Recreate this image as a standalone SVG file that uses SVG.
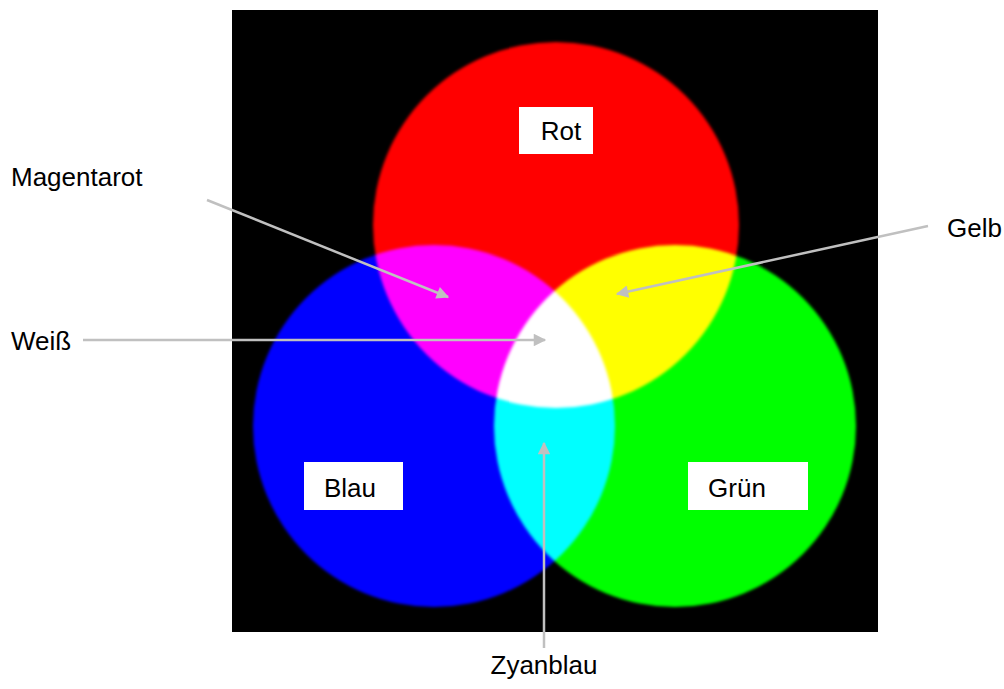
<svg xmlns="http://www.w3.org/2000/svg" width="1004" height="689" viewBox="0 0 1004 689">
<style>
.lbl{font-family:"Liberation Sans",Arial,sans-serif;font-size:26px;fill:#000}
.box{fill:#fff}
.conn{stroke:#c0c0c0;stroke-width:2.5;fill:none}
.light{mix-blend-mode:screen}
</style>
<defs>
<filter id="soft" x="-10%" y="-10%" width="120%" height="120%"><feGaussianBlur stdDeviation="1.5"/></filter>
<marker id="ah" viewBox="0 0 10 10" refX="9" refY="5" markerWidth="6" markerHeight="5" markerUnits="strokeWidth" orient="auto"><path d="M0,0 L10,5 L0,10 z" fill="#c0c0c0"/></marker>
</defs>
<rect width="1004" height="689" fill="#fff"/>
<g id="lights" style="isolation:isolate">
<rect x="232" y="10" width="646" height="622" fill="#000"/>
<circle id="red" class="light" cx="556" cy="225" r="183" fill="#ff0000" filter="url(#soft)"/>
<circle id="blue" class="light" cx="434" cy="426" r="181" fill="#0000ff" filter="url(#soft)"/>
<circle id="green" class="light" cx="675" cy="426" r="181" fill="#00ff00" filter="url(#soft)"/>
</g>
<g id="connectors">
<line class="conn" x1="207" y1="200" x2="448" y2="297" marker-end="url(#ah)"/>
<line class="conn" x1="928" y1="226" x2="617" y2="294" marker-end="url(#ah)"/>
<line class="conn" x1="83" y1="340" x2="545" y2="340" marker-end="url(#ah)"/>
<line class="conn" x1="544" y1="648" x2="544" y2="443" marker-end="url(#ah)"/>
</g>
<g id="node-rot"><rect class="box" x="519" y="107" width="74" height="47"/><text class="lbl" x="561" y="140" text-anchor="middle">Rot</text></g>
<g id="node-blau"><rect class="box" x="304" y="462" width="99" height="48"/><text class="lbl" x="350" y="497" text-anchor="middle">Blau</text></g>
<g id="node-gruen"><rect class="box" x="688" y="462" width="120" height="48"/><text class="lbl" x="737" y="497" text-anchor="middle">Grün</text></g>
<g id="node-magentarot"><text class="lbl" x="11" y="186">Magentarot</text></g>
<g id="node-gelb"><text class="lbl" x="947" y="237">Gelb</text></g>
<g id="node-weiss"><text class="lbl" x="11" y="350">Weiß</text></g>
<g id="node-zyanblau"><text class="lbl" x="544" y="674" text-anchor="middle">Zyanblau</text></g>
</svg>
